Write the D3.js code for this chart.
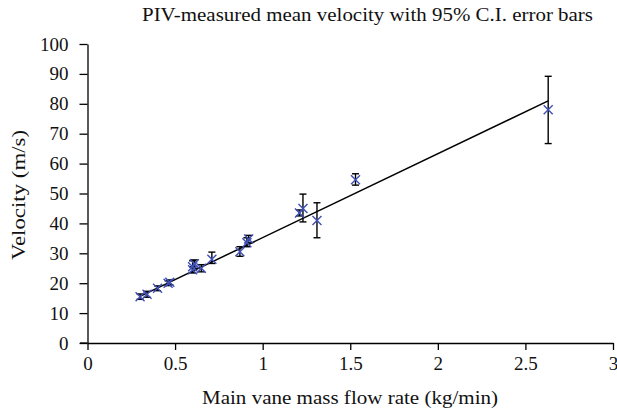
<!DOCTYPE html>
<html><head><meta charset="utf-8">
<script src="https://cdn.jsdelivr.net/npm/d3@7"></script>
<style>body{margin:0;background:#fff}svg{display:block}svg text{font-family:"Liberation Serif","Times New Roman",serif}</style>
</head><body>
<svg id="c" width="617" height="414"></svg>
<script>
// data
const flowRate = [0.30, 0.34, 0.40, 0.46, 0.47, 0.60, 0.61, 0.60, 0.65, 0.71, 0.87, 0.91, 0.92, 1.21, 1.23, 1.31, 1.53, 2.63];
const velocity = [15.5, 16.3, 18.3, 20.0, 20.3, 25.5, 26.5, 24.5, 25.0, 28.0, 30.5, 33.5, 34.8, 43.5, 45.0, 41.0, 54.6, 78.0];
const ciLow    = [14.6, 15.3, 17.5, 19.2, 19.5, 23.5, 25.0, 23.5, 23.8, 26.6, 29.0, 32.2, 33.5, 42.5, 40.5, 35.2, 52.8, 66.7];
const ciHigh   = [16.4, 17.3, 19.1, 20.8, 21.1, 27.5, 27.8, 25.5, 26.2, 30.4, 32.2, 35.2, 36.0, 44.5, 49.8, 46.9, 56.6, 89.2];
const trendX = [0.30, 2.63];
const trendY = [15.6, 81.0];
const xTicks = [0, 0.5, 1, 1.5, 2, 2.5, 3];
const yTicks = [0, 10, 20, 30, 40, 50, 60, 70, 80, 90, 100];

const svg = d3.select("#c");
const font = "'Liberation Serif', 'Times New Roman', serif";
const x = d3.scaleLinear().domain([0, 3]).range([87.5, 613]);
const y = d3.scaleLinear().domain([0, 100]).range([343, 44]);

// axes
const xa = svg.append("g").attr("transform", "translate(0,343)")
  .call(d3.axisBottom(x).tickValues(xTicks).tickFormat(d3.format("")).tickSize(7).tickSizeOuter(0));
const ya = svg.append("g").attr("transform", "translate(87.5,0)")
  .call(d3.axisLeft(y).tickValues(yTicks).tickSize(8).tickSizeOuter(0));
[xa, ya].forEach(g => {
  g.attr("font-family", font).attr("font-size", 19);
  g.select(".domain").attr("stroke", "#000").attr("stroke-width", 1.3);
  g.selectAll(".tick line").attr("stroke", "#000").attr("stroke-width", 1.3);
  g.selectAll("text").attr("fill", "#111").style("font-family", font).style("font-size", "19px");
});
xa.selectAll("text").attr("y", 14).attr("dy", "0.71em");
ya.selectAll("text").attr("x", -19);
// extend x-axis line left to meet the y-axis zero tick
svg.append("line").attr("x1", 80).attr("x2", 87.5).attr("y1", 343).attr("y2", 343).attr("stroke", "#000").attr("stroke-width", 1.3);

// trend line
svg.append("path").datum(trendX.map((d, i) => [d, trendY[i]]))
  .attr("d", d3.line().x(d => x(d[0])).y(d => y(d[1])))
  .attr("fill", "none").attr("stroke", "#000").attr("stroke-width", 1.5);

// error bars
const idx = d3.range(flowRate.length);
const eb = svg.append("g").attr("stroke", "#000").attr("stroke-width", 1.4);
idx.forEach(i => {
  const cx = x(flowRate[i]);
  eb.append("line").attr("x1", cx).attr("x2", cx).attr("y1", y(ciLow[i])).attr("y2", y(ciHigh[i]));
  eb.append("line").attr("x1", cx - 3.5).attr("x2", cx + 3.5).attr("y1", y(ciLow[i])).attr("y2", y(ciLow[i]));
  eb.append("line").attr("x1", cx - 3.5).attr("x2", cx + 3.5).attr("y1", y(ciHigh[i])).attr("y2", y(ciHigh[i]));
});

// markers
const mk = svg.append("g").attr("stroke", "#3f4fb5").attr("stroke-width", 1.4);
idx.forEach(i => {
  const cx = x(flowRate[i]), cy = y(velocity[i]), s = 4.5;
  mk.append("path").attr("d", `M${cx - s},${cy - s}L${cx + s},${cy + s}M${cx - s},${cy + s}L${cx + s},${cy - s}`);
});

// titles
const txt = (sel) => sel.attr("font-size", 19).attr("fill", "#111")
  .attr("text-anchor", "middle").attr("lengthAdjust", "spacingAndGlyphs");
svg.append("text").call(txt).attr("x", 367.5).attr("y", 21).attr("textLength", 451)
  .text("PIV-measured mean velocity with 95% C.I. error bars");
svg.append("text").call(txt).attr("x", 350).attr("y", 404).attr("textLength", 296)
  .text("Main vane mass flow rate (kg/min)");
svg.append("text").call(txt).attr("transform", "translate(25,195) rotate(-90)").attr("textLength", 130)
  .text("Velocity (m/s)");
</script>
</body></html>
